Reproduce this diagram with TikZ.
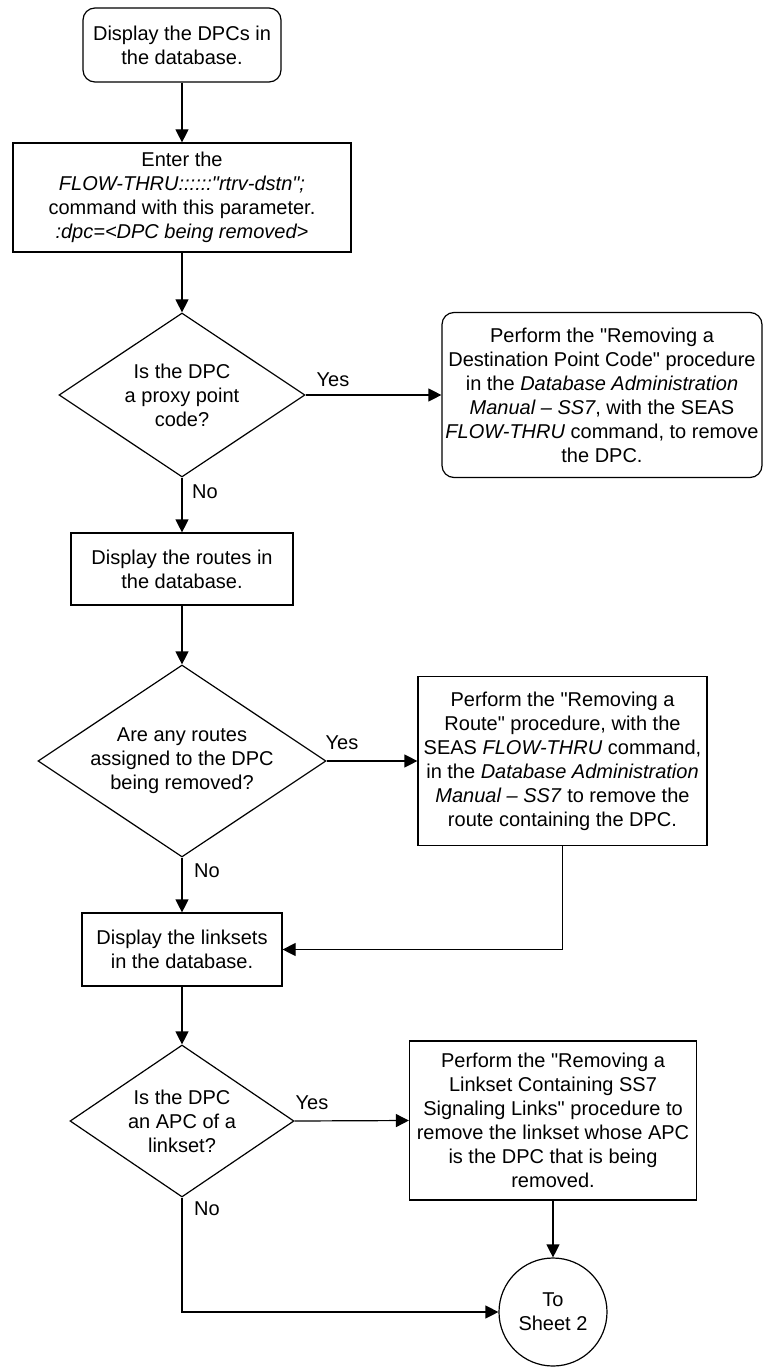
\documentclass[tikz,border=0pt]{standalone}
\usepackage{fontspec}
\setmainfont{Liberation Sans}[Ligatures=TeXOff]
\usetikzlibrary{arrows.meta,shapes.geometric}
\tikzset{
  every node/.style={font=\fontsize{20}{24}\selectfont},
  shapebase/.style={draw, line width=1.2pt, align=center, inner sep=0pt},
  procbox/.style={shapebase, rectangle},
  termbox/.style={shapebase, rectangle, rounded corners=12pt},
  decision/.style={shapebase, diamond},
  connector/.style={shapebase, circle},
  txt/.style={align=center, inner sep=0pt},
  lbl/.style={inner sep=0pt},
  arr/.style={line width=1.2pt, -{Triangle[length=13pt,width=13pt]}},
}
\begin{document}
\begin{tikzpicture}[x=1pt,y=-1pt]
\useasboundingbox (0,0) rectangle (764,1367);

\node[termbox, minimum width=198pt, minimum height=74pt] (start) at (182,45)
  {Display the DPCs in\\the database.};

\node[procbox, minimum width=338pt, minimum height=109pt] (enter) at (182,197.5)
  {Enter the\\\textit{FLOW-THRU::::::"rtrv-dstn";}\\command with this parameter.\\\textit{:dpc=<DPC being removed>}};

\node[decision, minimum width=246pt, minimum height=164pt] (d1) at (182,395) {};
\node[txt] (d1t) at (d1) {Is the DPC\\a proxy point\\code?};

\node[termbox, minimum width=320pt, minimum height=165pt] (r1) at (602,395)
  {Perform the "Removing a\\Destination Point Code" procedure\\in the \textit{Database Administration}\\\textit{Manual – SS7}, with the SEAS\\\textit{FLOW-THRU} command, to remove\\the DPC.};

\node[procbox, minimum width=222pt, minimum height=72pt] (routes) at (182,569)
  {Display the routes in\\the database.};

\node[decision, minimum width=288pt, minimum height=192pt] (d2) at (182,761) {};
\node[txt] (d2t) at (d2) {Are any routes\\assigned to the DPC\\being removed?};

\node[procbox, minimum width=289pt, minimum height=169pt] (r2) at (562.5,761)
  {Perform the "Removing a\\Route" procedure, with the\\SEAS \textit{FLOW-THRU} command,\\in the \textit{Database Administration}\\\textit{Manual – SS7} to remove the\\route containing the DPC.};

\node[procbox, minimum width=200pt, minimum height=73pt] (linksets) at (182,949.5)
  {Display the linksets\\in the database.};

\node[decision, minimum width=224pt, minimum height=152pt] (d3) at (182,1121) {};
\node[txt] (d3t) at (d3) {Is the DPC\\an APC of a\\linkset?};

\node[procbox, minimum width=287pt, minimum height=159pt] (r3) at (553,1120.5)
  {Perform the "Removing a\\Linkset Containing SS7\\Signaling Links" procedure to\\remove the linkset whose APC\\is the DPC that is being\\removed.};

\node[connector, minimum size=108pt] (circ) at (553,1312) {};
\node[txt] (circt) at (circ) {To\\Sheet 2};

\draw[arr] (start) -- (enter);
\draw[arr] (enter) -- (d1);
\draw[arr] (d1.east) -- (r1.west);
\node[lbl] (y1) at (333,380) {Yes};
\draw[arr] (d1.south) -- (routes.north);
\node[lbl] (n1) at (205,492) {No};
\draw[arr] (routes) -- (d2);
\draw[arr] (d2.east) -- (r2.west);
\node[lbl] (y2) at (342,743) {Yes};
\draw[arr] (d2.south) -- (linksets.north);
\node[lbl] (n2) at (207,871) {No};
\draw[arr] (r2.south) |- (linksets.east);
\draw[arr] (linksets) -- (d3);
\draw[arr] (d3.east) -- (r3.west);
\node[lbl] (y3) at (312,1103) {Yes};
\draw[arr] (r3.south) -- (circ.north);
\draw[arr] (d3.south) |- (circ.west);
\node[lbl] (n3) at (207,1209) {No};
\end{tikzpicture}
\end{document}
